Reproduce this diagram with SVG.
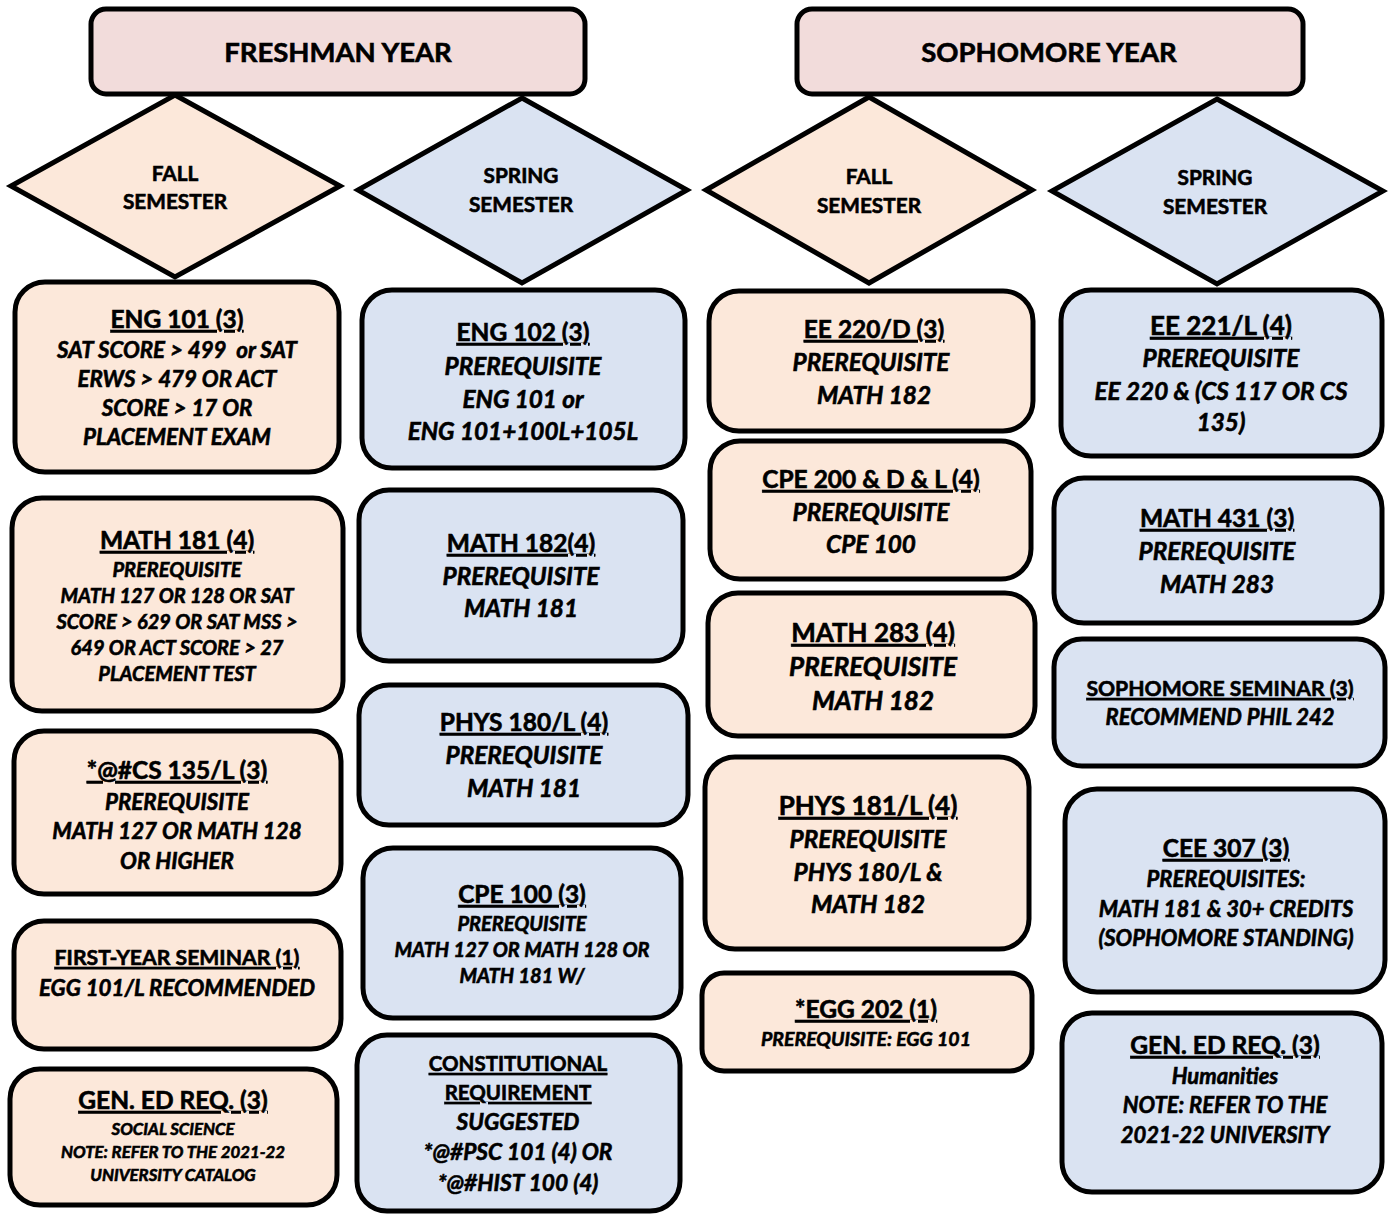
<svg xmlns="http://www.w3.org/2000/svg" width="1388" height="1214" viewBox="0 0 1388 1214">
<style>
.hdr{fill:#F2DCDB;stroke:#000;stroke-width:5}
.fall{fill:#FCE8DA;stroke:#000;stroke-width:5}
.spr{fill:#DAE3F2;stroke:#000;stroke-width:5}
text{font-family:Lato,"Liberation Sans",sans-serif;font-weight:bold;fill:#000;stroke:#000;stroke-width:0.6;text-anchor:middle}
.h{font-size:27.5px}
.d{font-size:20.8px}
.t{font-size:24.5px;text-decoration:underline}
.tb{font-size:26px;text-decoration:underline}
.ts{font-size:21.2px;text-decoration:underline}
.tc{font-size:20.5px;text-decoration:underline}
.i{font-size:22.3px;font-style:italic}
.ib{font-size:24.3px;font-style:italic}
.ic{font-size:22.7px;font-style:italic}
.s{font-size:20px;font-style:italic}
.m{font-size:22px;font-style:italic}
.xs{font-size:16.8px;font-style:italic}
.xe{font-size:19.5px;font-style:italic}
</style>
<rect width="1388" height="1214" fill="#fff" stroke="none"/>
<g id="connectors"/>
<g id="freshman-year"><rect class="hdr" x="91" y="9" width="494" height="85" rx="15"/><text class="h" x="338" y="62">FRESHMAN YEAR</text></g>
<g id="sophomore-year"><rect class="hdr" x="797" y="9" width="506" height="85" rx="15"/><text class="h" x="1049" y="62">SOPHOMORE YEAR</text></g>

<g id="fr-fall"><polygon class="fall" points="175,95 340,186 175,277 11,186"/><text class="d" x="175" y="181">FALL</text><text class="d" x="175" y="209">SEMESTER</text></g>
<g id="fr-spring"><polygon class="spr" points="522,98 687,190 522,283 358,190"/><text class="d" x="521" y="183">SPRING</text><text class="d" x="521" y="212">SEMESTER</text></g>
<g id="so-fall"><polygon class="fall" points="869,97 1032,190 869,283 706,190"/><text class="d" x="869" y="184">FALL</text><text class="d" x="869" y="213">SEMESTER</text></g>
<g id="so-spring"><polygon class="spr" points="1217,99 1383,191 1217,284 1052,191"/><text class="d" x="1215" y="185">SPRING</text><text class="d" x="1215" y="214">SEMESTER</text></g>

<g id="eng101"><rect class="fall" x="15" y="282" width="324" height="190" rx="30"/>
<text class="t" x="177" y="328">ENG 101 (3)</text>
<text class="i" x="177" y="358" xml:space="preserve">SAT SCORE &gt; 499  or SAT</text>
<text class="i" x="177" y="387">ERWS &gt; 479 OR ACT</text>
<text class="i" x="177" y="416">SCORE &gt; 17 OR</text>
<text class="i" x="177" y="445">PLACEMENT EXAM</text></g>

<g id="math181"><rect class="fall" x="12" y="498" width="331" height="213" rx="30"/>
<text class="t" x="177" y="549">MATH 181 (4)</text>
<text class="s" x="177" y="577">PREREQUISITE</text>
<text class="s" x="177" y="603">MATH 127 OR 128 OR SAT</text>
<text class="s" x="177" y="629">SCORE &gt; 629 OR SAT MSS &gt;</text>
<text class="s" x="177" y="655">649 OR ACT SCORE &gt; 27</text>
<text class="s" x="177" y="681">PLACEMENT TEST</text></g>

<g id="cs135"><rect class="fall" x="14" y="731" width="327" height="163" rx="30"/>
<text class="t" x="177" y="779">*@#CS 135/L (3)</text>
<text class="i" x="177" y="810">PREREQUISITE</text>
<text class="i" x="177" y="839">MATH 127 OR MATH 128</text>
<text class="i" x="177" y="869">OR HIGHER</text></g>

<g id="fys"><rect class="fall" x="14" y="921" width="327" height="128" rx="30"/>
<text class="ts" x="177" y="965">FIRST-YEAR SEMINAR (1)</text>
<text class="i" x="177" y="996">EGG 101/L RECOMMENDED</text></g>

<g id="gened-fr"><rect class="fall" x="10" y="1069" width="327" height="136" rx="30"/>
<text class="t" x="173" y="1109">GEN. ED REQ. (3)</text>
<text class="xs" x="173" y="1135">SOCIAL SCIENCE</text>
<text class="xs" x="173" y="1158">NOTE: REFER TO THE 2021-22</text>
<text class="xs" x="173" y="1181">UNIVERSITY CATALOG</text></g>

<g id="eng102"><rect class="spr" x="362" y="290" width="323" height="178" rx="30"/>
<text class="t" x="523" y="341">ENG 102 (3)</text>
<text class="ib" x="523" y="375">PREREQUISITE</text>
<text class="ib" x="523" y="408">ENG 101 or</text>
<text class="ib" x="523" y="440">ENG 101+100L+105L</text></g>

<g id="math182"><rect class="spr" x="359" y="490" width="324" height="171" rx="30"/>
<text class="t" x="521" y="552">MATH 182(4)</text>
<text class="ib" x="521" y="585">PREREQUISITE</text>
<text class="ib" x="521" y="617">MATH 181</text></g>

<g id="phys180"><rect class="spr" x="359" y="685" width="329" height="140" rx="30"/>
<text class="t" x="524" y="731">PHYS 180/L (4)</text>
<text class="ib" x="524" y="764">PREREQUISITE</text>
<text class="ib" x="524" y="797">MATH 181</text></g>

<g id="cpe100"><rect class="spr" x="363" y="848" width="318" height="170" rx="30"/>
<text class="t" x="522" y="903">CPE 100 (3)</text>
<text class="s" x="522" y="931">PREREQUISITE</text>
<text class="s" x="522" y="957">MATH 127 OR MATH 128 OR</text>
<text class="s" x="522" y="983">MATH 181 W/</text></g>

<g id="constitutional"><rect class="spr" x="357" y="1035" width="323" height="176" rx="30"/>
<text class="tc" x="518" y="1071">CONSTITUTIONAL</text>
<text class="tc" x="518" y="1100">REQUIREMENT</text>
<text class="ic" x="518" y="1130">SUGGESTED</text>
<text class="ic" x="518" y="1160">*@#PSC 101 (4) OR</text>
<text class="ic" x="518" y="1191">*@#HIST 100 (4)</text></g>

<g id="ee220"><rect class="fall" x="709" y="291" width="324" height="140" rx="30"/>
<text class="t" x="874" y="338">EE 220/D (3)</text>
<text class="ib" x="871" y="371">PREREQUISITE</text>
<text class="ib" x="874" y="404">MATH 182</text></g>

<g id="cpe200"><rect class="fall" x="710" y="441" width="321" height="138" rx="30"/>
<text class="t" x="871" y="488">CPE 200 &amp; D &amp; L (4)</text>
<text class="ib" x="871" y="521">PREREQUISITE</text>
<text class="ib" x="871" y="553">CPE 100</text></g>

<g id="math283"><rect class="fall" x="708" y="593" width="327" height="143" rx="30"/>
<text class="tb" x="873" y="642">MATH 283 (4)</text>
<text class="tb" x="873" y="676" style="text-decoration:none;font-style:italic">PREREQUISITE</text>
<text class="tb" x="873" y="710" style="text-decoration:none;font-style:italic">MATH 182</text></g>

<g id="phys181"><rect class="fall" x="705" y="757" width="324" height="192" rx="30"/>
<text class="tb" x="868" y="815">PHYS 181/L (4)</text>
<text class="ib" x="868" y="848">PREREQUISITE</text>
<text class="ib" x="868" y="881">PHYS 180/L &amp;</text>
<text class="ib" x="868" y="913">MATH 182</text></g>

<g id="egg202"><rect class="fall" x="702" y="973" width="330" height="98" rx="22"/>
<text class="t" x="866" y="1018">*EGG 202 (1)</text>
<text class="xe" x="866" y="1046">PREREQUISITE: EGG 101</text></g>

<g id="ee221"><rect class="spr" x="1061" y="290" width="321" height="166" rx="30"/>
<text class="tb" x="1221" y="335">EE 221/L (4)</text>
<text class="ib" x="1221" y="367">PREREQUISITE</text>
<text class="ib" x="1221" y="400">EE 220 &amp; (CS 117 OR CS</text>
<text class="ib" x="1221" y="431">135)</text></g>

<g id="math431"><rect class="spr" x="1054" y="478" width="328" height="145" rx="30"/>
<text class="t" x="1217" y="527">MATH 431 (3)</text>
<text class="ib" x="1217" y="560">PREREQUISITE</text>
<text class="ib" x="1217" y="593">MATH 283</text></g>

<g id="soph-seminar"><rect class="spr" x="1054" y="639" width="331" height="127" rx="28"/>
<text class="ts" x="1220" y="696">SOPHOMORE SEMINAR (3)</text>
<text class="m" x="1220" y="725">RECOMMEND PHIL 242</text></g>

<g id="cee307"><rect class="spr" x="1065" y="789" width="320" height="203" rx="32"/>
<text class="t" x="1226" y="857">CEE 307 (3)</text>
<text class="m" x="1226" y="887">PREREQUISITES:</text>
<text class="m" x="1226" y="917">MATH 181 &amp; 30+ CREDITS</text>
<text class="m" x="1226" y="946">(SOPHOMORE STANDING)</text></g>

<g id="gened-so"><rect class="spr" x="1062" y="1013" width="320" height="179" rx="30"/>
<text class="t" x="1225" y="1054">GEN. ED REQ. (3)</text>
<text class="m" x="1225" y="1084">Humanities</text>
<text class="m" x="1225" y="1113">NOTE: REFER TO THE</text>
<text class="m" x="1225" y="1143">2021-22 UNIVERSITY</text></g>
</svg>
